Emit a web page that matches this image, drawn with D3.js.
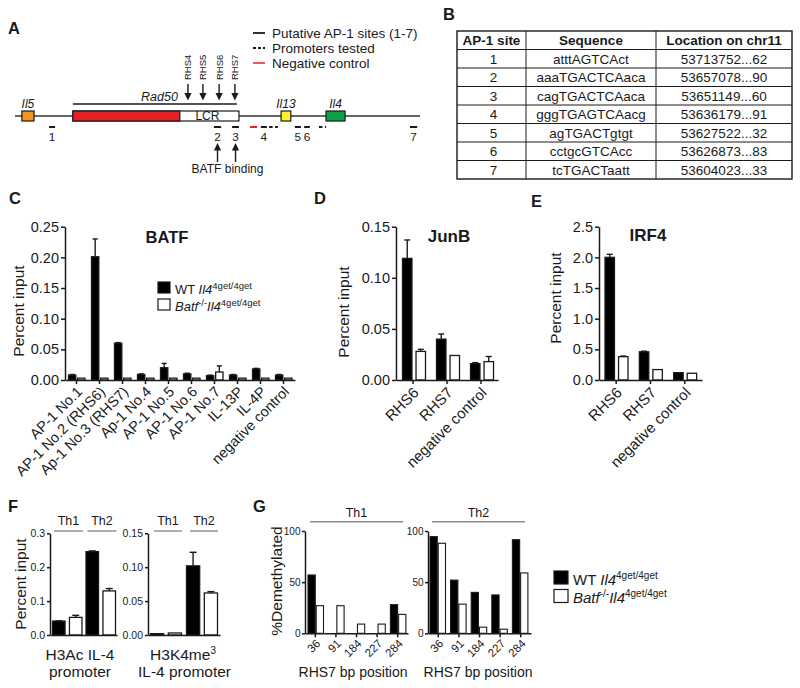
<!DOCTYPE html>
<html><head><meta charset="utf-8">
<script src="https://cdn.jsdelivr.net/npm/d3@7"></script>
<style>body{margin:0;background:#fff} svg{display:block}</style>
</head><body>
<svg id="fig" width="800" height="688"></svg>
<script>
const FONT = "'Liberation Sans', Arial, Helvetica, sans-serif";
const INK = "#1a1a1a";

// ================= DATA =================
// Panel A: schematic map (arbitrary map units 0-100)
const locusSpan = [0, 100];
const geneNames = ["Il5", "Il13", "Il4"];
const geneSpans = [[1.7, 4.7], [65.7, 68.1], [76.8, 81.5]];
const geneColors = ["#f39322", "#fff22d", "#0fa04b"];
const rad50LineSpan = [14.3, 54.8];
const rad50BoxSpan = [14.3, 55.3];
const rad50CodingSpan = [14.3, 40.7];
const rhsNames = ["RHS4", "RHS5", "RHS6", "RHS7"];
const rhsPositions = [42.7, 46.4, 50.4, 54.3];
const ap1SiteNames = ["1", "2", "3", "4", "5", "6", "7"];
const ap1SiteSpans = [[8.4, 9.9], [49.1, 50.9], [53.6, 55.3], [60.7, 62.2], [69.1, 70.6], [71.4, 72.8], [97.5, 99.3]];
const promoterSpans = [[62.5, 64.9], [74.8, 76.8]];
const negControlSpans = [[58.0, 59.8]];
const batfBoundSites = ["2", "3"];
const legendAItems = ["Putative AP-1 sites (1-7)", "Promoters tested", "Negative control"];

// Panel B: table
const tableHeader = ["AP-1 site", "Sequence", "Location on chr11"];
const siteSequences = ["atttAGTCAct", "aaaTGACTCAaca", "cagTGACTCAaca", "gggTGAGTCAacg", "agTGACTgtgt", "cctgcGTCAcc", "tcTGACTaatt"];
const siteLocations = ["53713752...62", "53657078...90", "53651149...60", "53636179...91", "53627522...32", "53626873...83", "53604023...33"];

// Panel C: BATF ChIP
const catsC = ["AP-1 No.1", "AP-1 No.2 (RHS6)", "Ap-1 No.3 (RHS7)", "Ap-1 No.4", "AP-1 No.5", "AP-1 No.6", "AP-1 No.7", "IL-13P", "IL-4P", "negative control"];
const wtC = [0.008, 0.201, 0.060, 0.009, 0.020, 0.010, 0.007, 0.008, 0.018, 0.008];
const wtErrC = [0.001, 0.029, 0.001, 0.001, 0.007, 0.001, 0.001, 0.001, 0.001, 0.001];
const koC = [0.003, 0.003, 0.003, 0.003, 0.003, 0.003, 0.013, 0.003, 0.003, 0.003];
const koErrC = [0, 0, 0, 0, 0, 0, 0.010, 0, 0, 0];
const ticksC = [0, 0.05, 0.10, 0.15, 0.20, 0.25];

// Panel D: JunB
const catsDE = ["RHS6", "RHS7", "negative control"];
const wtD = [0.119, 0.040, 0.016];
const wtErrD = [0.018, 0.005, 0.001];
const koD = [0.028, 0.024, 0.018];
const koErrD = [0.002, 0, 0.005];
const ticksD = [0, 0.05, 0.10, 0.15];

// Panel E: IRF4
const wtE = [2.00, 0.46, 0.12];
const wtErrE = [0.05, 0.01, 0];
const koE = [0.38, 0.17, 0.11];
const koErrE = [0.01, 0, 0];
const ticksE = [0, 0.5, 1.0, 1.5, 2.0, 2.5];

// Panel F: histone marks at IL-4 promoter
const cellTypes = ["Th1", "Th2"];
const wtH3Ac = [0.041, 0.246];
const wtErrH3Ac = [0.001, 0.002];
const koH3Ac = [0.052, 0.130];
const koErrH3Ac = [0.006, 0.007];
const ticksH3Ac = [0, 0.1, 0.2, 0.3];
const wtH3K4 = [0.002, 0.102];
const wtErrH3K4 = [0, 0.020];
const koH3K4 = [0.003, 0.062];
const koErrH3K4 = [0, 0.002];
const ticksH3K4 = [0, 0.05, 0.10, 0.15];

// Panel G: RHS7 demethylation
const bpPositions = ["36", "91", "184", "227", "284"];
const wtTh1 = [57, 0, 0, 0, 28];
const koTh1 = [27, 27, 9, 9, 18.5];
const wtTh2 = [94.5, 52, 40, 37.5, 91.5];
const koTh2 = [88, 28.5, 6, 4, 59];
const ticksG = [0, 50, 100];

// Legend labels
const legendSeries = [
  [{t: "WT ", s: "n"}, {t: "Il4", s: "i"}, {t: "4get/4get", s: "sup"}],
  [{t: "Batf", s: "i"}, {t: "-/-", s: "sup"}, {t: "Il4", s: "i"}, {t: "4get/4get", s: "sup"}]
];
const seriesFills = ["#000", "#fff"];

// ================= DRAWING =================
const svg = d3.select("#fig").attr("font-family", FONT);
svg.append("rect").attr("width", 800).attr("height", 688).attr("fill", "#fff");

function panelLabel(t, x, y) {
  svg.append("text").attr("x", x).attr("y", y).attr("font-weight", "bold")
    .attr("font-size", 16.5).attr("fill", INK).text(t);
}
function styleAxis(sel, fs) {
  sel.attr("font-family", FONT).attr("font-size", fs);
  sel.select(".domain").attr("stroke", INK).attr("stroke-width", 1.5);
  sel.selectAll(".tick line").attr("stroke", INK).attr("stroke-width", 1.5);
  sel.selectAll(".tick text").attr("fill", INK).attr("font-size", fs);
}
function vLabel(text, x, y, fs) {
  svg.append("text").attr("transform", `translate(${x},${y}) rotate(-90)`)
    .attr("text-anchor", "middle").attr("dy", "0.35em").attr("font-size", fs)
    .attr("fill", INK).text(text);
}
function richText(g, parts, x, y, fs, supFs, rise) {
  const t = g.append("text").attr("x", x).attr("y", y).attr("font-size", fs).attr("fill", INK);
  let up = false;
  parts.forEach(p => {
    const ts = t.append("tspan").text(p.t);
    if (p.s === "sup") {
      ts.attr("font-size", supFs).attr("dy", up ? 0 : -rise); up = true;
    } else {
      if (up) { ts.attr("dy", rise); up = false; }
      if (p.s === "i") ts.attr("font-style", "italic");
    }
  });
  return t;
}
function legend(x, y, size, gap, fs, supFs, rise) {
  const g = svg.append("g");
  legendSeries.forEach((parts, i) => {
    const yy = y + i * gap;
    g.append("rect").attr("x", x).attr("y", yy).attr("width", size).attr("height", size - 1)
      .attr("fill", seriesFills[i]).attr("stroke", INK).attr("stroke-width", 1.2);
    richText(g, parts, x + size + 5, yy + size - 0.5, fs, supFs, rise);
  });
}

function groupedBars(o) {
  const g = svg.append("g");
  const x0 = d3.scaleBand().domain(o.cats).range(o.xRange);
  const x1 = d3.scaleBand().domain(d3.range(o.series.length)).range(o.inner).paddingInner(o.gap);
  const y = d3.scaleLinear().domain([0, d3.max(o.ticks)]).range(o.yRange);
  o.series.forEach((s, i) => {
    const d = o.cats.map((c, j) => ({c, v: s.vals[j], e: s.errs ? s.errs[j] : 0}));
    const gs = g.append("g");
    gs.selectAll("rect").data(d).join("rect")
      .attr("x", q => x0(q.c) + x1(i)).attr("width", x1.bandwidth())
      .attr("y", q => y(q.v)).attr("height", q => y(0) - y(q.v))
      .attr("fill", seriesFills[i]).attr("stroke", INK).attr("stroke-width", o.barStroke || 1.3);
    const ed = d.filter(q => q.e > 0);
    const cx = q => x0(q.c) + x1(i) + x1.bandwidth() / 2;
    gs.selectAll("line.err").data(ed).join("line").attr("class", "err")
      .attr("x1", cx).attr("x2", cx).attr("y1", q => y(q.v)).attr("y2", q => y(q.v + q.e))
      .attr("stroke", INK).attr("stroke-width", 1.4);
    gs.selectAll("line.cap").data(ed).join("line").attr("class", "cap")
      .attr("x1", q => cx(q) - o.cap).attr("x2", q => cx(q) + o.cap)
      .attr("y1", q => y(q.v + q.e)).attr("y2", q => y(q.v + q.e))
      .attr("stroke", INK).attr("stroke-width", 1.4);
  });
  const ya = g.append("g").attr("transform", `translate(${o.xRange[0]},0)`)
    .call(d3.axisLeft(y).tickValues(o.ticks).tickFormat(o.fmt).tickSize(o.tickLen).tickSizeOuter(0).tickPadding(o.pad));
  styleAxis(ya, o.tickFs);
  const xa = g.append("g").attr("transform", `translate(0,${y(0)})`)
    .call(d3.axisBottom(x0).tickSize(o.xTickLen).tickSizeOuter(0));
  styleAxis(xa, o.xFs || 12);
  if (o.xFs) {
    xa.selectAll(".tick text").attr("x", null).attr("y", null).attr("dy", "0.35em")
      .attr("transform", `translate(${o.lx},${o.ly}) rotate(-45)`).attr("text-anchor", "end");
  } else {
    xa.selectAll(".tick text").remove();
  }
  if (o.xTickLen === 0) xa.selectAll(".tick line").remove();
  return {x0, x1, y, g};
}

// ---------- Panel A ----------
panelLabel("A", 8, 34);
const xA = d3.scaleLinear().domain(locusSpan).range([15, 420]);
const gA = svg.append("g").attr("fill", INK);
const yLine = 116, boxTop = 111, boxH = 10, markY = 127;
gA.append("line").attr("x1", xA(locusSpan[0])).attr("x2", xA(locusSpan[1]))
  .attr("y1", yLine).attr("y2", yLine).attr("stroke", "#333").attr("stroke-width", 1.6);
gA.append("rect").attr("x", xA(rad50BoxSpan[0])).attr("y", boxTop)
  .attr("width", xA(rad50BoxSpan[1]) - xA(rad50BoxSpan[0])).attr("height", boxH)
  .attr("fill", "#fff").attr("stroke", INK).attr("stroke-width", 1.2);
gA.append("rect").attr("x", xA(rad50CodingSpan[0])).attr("y", boxTop)
  .attr("width", xA(rad50CodingSpan[1]) - xA(rad50CodingSpan[0])).attr("height", boxH)
  .attr("fill", "#e52229").attr("stroke", INK).attr("stroke-width", 1.2);
gA.append("text").attr("x", (xA(rad50CodingSpan[1]) + xA(rad50BoxSpan[1])) / 2 - 2).attr("y", 120.3)
  .attr("text-anchor", "middle").attr("font-size", 12).text("LCR");
geneNames.forEach((n, i) => {
  const [a, b] = geneSpans[i];
  gA.append("rect").attr("x", xA(a)).attr("y", boxTop).attr("width", xA(b) - xA(a)).attr("height", boxH)
    .attr("fill", geneColors[i]).attr("stroke", INK).attr("stroke-width", 1.2);
  gA.append("text").attr("x", (xA(a) + xA(b)) / 2).attr("y", 107.5).attr("text-anchor", "middle")
    .attr("font-style", "italic").attr("font-size", 12).text(n);
});
gA.append("line").attr("x1", xA(rad50LineSpan[0])).attr("x2", xA(rad50LineSpan[1]))
  .attr("y1", 104).attr("y2", 104).attr("stroke", INK).attr("stroke-width", 1.5);
gA.append("text").attr("x", xA(rhsPositions[0]) - 10).attr("y", 101).attr("text-anchor", "end")
  .attr("font-style", "italic").attr("font-size", 12.5).text("Rad50");
rhsNames.forEach((n, i) => {
  const x = xA(rhsPositions[i]);
  gA.append("line").attr("x1", x).attr("x2", x).attr("y1", 84).attr("y2", 94).attr("stroke", INK).attr("stroke-width", 1.4);
  gA.append("path").attr("d", `M${x - 3.6},93 L${x + 3.6},93 L${x},100.5 Z`).attr("fill", INK);
  gA.append("text").attr("transform", `translate(${x + 3.4},80) rotate(-90)`).attr("font-size", 9.5).text(n);
});
ap1SiteNames.forEach((n, i) => {
  const [a, b] = ap1SiteSpans[i];
  gA.append("line").attr("x1", xA(a)).attr("x2", xA(b)).attr("y1", markY).attr("y2", markY)
    .attr("stroke", INK).attr("stroke-width", 2);
  gA.append("text").attr("x", (xA(a) + xA(b)) / 2).attr("y", 140.5).attr("text-anchor", "middle")
    .attr("font-size", 11.8).text(n);
});
promoterSpans.forEach(([a, b]) => {
  gA.append("line").attr("x1", xA(a) + 1).attr("x2", xA(b)).attr("y1", markY).attr("y2", markY)
    .attr("stroke", INK).attr("stroke-width", 2).attr("stroke-dasharray", "3.5,2.5");
});
negControlSpans.forEach(([a, b]) => {
  gA.append("line").attr("x1", xA(a)).attr("x2", xA(b)).attr("y1", markY).attr("y2", markY)
    .attr("stroke", "#e52229").attr("stroke-width", 2);
});
const batfX = batfBoundSites.map(s => { const [a, b] = ap1SiteSpans[ap1SiteNames.indexOf(s)]; return (xA(a) + xA(b)) / 2; });
batfX.forEach(x => {
  gA.append("line").attr("x1", x).attr("x2", x).attr("y1", 149).attr("y2", 162).attr("stroke", INK).attr("stroke-width", 1.4);
  gA.append("path").attr("d", `M${x - 3.6},150.5 L${x + 3.6},150.5 L${x},143 Z`).attr("fill", INK);
});
gA.append("text").attr("x", d3.mean(batfX) + 1).attr("y", 172.5).attr("text-anchor", "middle")
  .attr("font-size", 12).text("BATF binding");
legendAItems.forEach((t, i) => {
  const yy = 38 + i * 15;
  const l = gA.append("line").attr("x1", 253).attr("x2", 265).attr("y1", yy - 5).attr("y2", yy - 5)
    .attr("stroke", i === 2 ? "#e52229" : INK).attr("stroke-width", i === 2 ? 1.5 : 1.8);
  if (i === 1) l.attr("stroke-dasharray", "3,2");
  gA.append("text").attr("x", 272).attr("y", yy).attr("font-size", 13.5).text(t);
});

// ---------- Panel B ----------
panelLabel("B", 443, 20);
const gB = svg.append("g").attr("fill", INK);
const colEdges = [457, 526, 656, 792];
const rowKeys = ["h"].concat(ap1SiteNames);
const yB = d3.scaleBand().domain(rowKeys).range([31, 179]);
gB.append("rect").attr("x", colEdges[0]).attr("y", 31).attr("width", colEdges[3] - colEdges[0]).attr("height", 148)
  .attr("fill", "none").attr("stroke", INK).attr("stroke-width", 1.4);
rowKeys.slice(1).forEach(k => {
  gB.append("line").attr("x1", colEdges[0]).attr("x2", colEdges[3]).attr("y1", yB(k)).attr("y2", yB(k))
    .attr("stroke", INK).attr("stroke-width", 1);
});
[1, 2].forEach(c => gB.append("line").attr("x1", colEdges[c]).attr("x2", colEdges[c]).attr("y1", 31).attr("y2", 179)
  .attr("stroke", INK).attr("stroke-width", 1));
const colMid = c => (colEdges[c] + colEdges[c + 1]) / 2;
tableHeader.forEach((h, c) => gB.append("text").attr("x", colMid(c)).attr("y", yB("h") + yB.bandwidth() / 2)
  .attr("dy", "0.36em").attr("text-anchor", "middle").attr("font-weight", "bold").attr("font-size", 13.5).text(h));
ap1SiteNames.forEach((s, i) => {
  [s, siteSequences[i], siteLocations[i]].forEach((v, c) => gB.append("text").attr("x", colMid(c) + (c === 0 ? 2 : 0))
    .attr("y", yB(s) + yB.bandwidth() / 2).attr("dy", "0.36em").attr("text-anchor", "middle").attr("font-size", 13.5).text(v));
});

// ---------- Panel C ----------
panelLabel("C", 9, 204);
groupedBars({cats: catsC, series: [{vals: wtC, errs: wtErrC}, {vals: koC, errs: koErrC}],
  xRange: [65, 295], inner: [3.5, 20], gap: 0.2, ticks: ticksC, fmt: d3.format(".2f"), yRange: [380, 226.7],
  tickLen: 4, pad: 2, tickFs: 14.5, xTickLen: 4, xFs: 14.5, lx: 3, ly: 9, cap: 2.6});
vLabel("Percent input", 18.5, 311, 15.5);
svg.append("text").attr("x", 167).attr("y", 243).attr("text-anchor", "middle").attr("font-weight", "bold")
  .attr("font-size", 16.5).attr("fill", INK).text("BATF");
legend(158, 282, 12, 17, 13, 9.5, 5);

// ---------- Panel D ----------
panelLabel("D", 314, 204);
groupedBars({cats: catsDE, series: [{vals: wtD, errs: wtErrD}, {vals: koD, errs: koErrD}],
  xRange: [396, 498], inner: [6.5, 29.5], gap: 0.3, ticks: ticksD, fmt: d3.format(".2f"), yRange: [380, 226.7],
  tickLen: 4, pad: 2, tickFs: 14.5, xTickLen: 4, xFs: 15, lx: 3, ly: 10, cap: 3});
vLabel("Percent input", 343.5, 312, 15.5);
svg.append("text").attr("x", 449).attr("y", 242).attr("text-anchor", "middle").attr("font-weight", "bold")
  .attr("font-size", 17).attr("fill", INK).text("JunB");

// ---------- Panel E ----------
panelLabel("E", 531, 207);
groupedBars({cats: catsDE, series: [{vals: wtE, errs: wtErrE}, {vals: koE, errs: koErrE}],
  xRange: [599, 702], inner: [6, 29], gap: 0.3, ticks: ticksE, fmt: d3.format(".1f"), yRange: [380, 226.7],
  tickLen: 4, pad: 2, tickFs: 14.5, xTickLen: 4, xFs: 15, lx: 3, ly: 10, cap: 3});
vLabel("Percent input", 556, 298, 15.5);
svg.append("text").attr("x", 648).attr("y", 241).attr("text-anchor", "middle").attr("font-weight", "bold")
  .attr("font-size", 17).attr("fill", INK).text("IRF4");

// ---------- Panel F ----------
panelLabel("F", 8, 512);
function groupHeader(x0, names, y, fs, l, r) {
  names.forEach(n => {
    const a = x0(n) + l, b = x0(n) + x0.bandwidth() - r;
    svg.append("line").attr("x1", a).attr("x2", b).attr("y1", y).attr("y2", y).attr("stroke", "#8c8c8c").attr("stroke-width", 1.4);
    svg.append("text").attr("x", (a + b) / 2).attr("y", y - 6).attr("text-anchor", "middle")
      .attr("font-size", fs).attr("fill", INK).text(n);
  });
}
const f1 = groupedBars({cats: cellTypes, series: [{vals: wtH3Ac, errs: wtErrH3Ac}, {vals: koH3Ac, errs: koErrH3Ac}],
  xRange: [50, 117], inner: [2.5, 32], gap: 0.26, ticks: ticksH3Ac, fmt: d3.format(".1f"), yRange: [635, 533.3],
  tickLen: 3, pad: 2, tickFs: 10.5, xTickLen: 0, cap: 3.5});
groupHeader(f1.x0, cellTypes, 531, 12.5, 4, 0.5);
const f2 = groupedBars({cats: cellTypes, series: [{vals: wtH3K4, errs: wtErrH3K4}, {vals: koH3K4, errs: koErrH3K4}],
  xRange: [148, 220], inner: [2.5, 33.5], gap: 0.26, ticks: ticksH3K4, fmt: d3.format(".2f"), yRange: [635, 533.3],
  tickLen: 3, pad: 2, tickFs: 10.5, xTickLen: 0, cap: 3.5});
groupHeader(f2.x0, cellTypes, 531, 12.5, 6, 2);
vLabel("Percent input", 21, 584, 15.5);
const fl = svg.append("g").attr("font-size", 15.5).attr("fill", INK).attr("text-anchor", "middle");
fl.append("text").attr("x", 80).attr("y", 660).text("H3Ac IL-4");
fl.append("text").attr("x", 80).attr("y", 677).text("promoter");
const h3k = fl.append("text").attr("x", 183).attr("y", 660);
h3k.append("tspan").text("H3K4me");
h3k.append("tspan").attr("font-size", 10).attr("dy", -6).text("3");
fl.append("text").attr("x", 184.5).attr("y", 677).text("IL-4 promoter");

// ---------- Panel G ----------
panelLabel("G", 253, 512);
const g1 = groupedBars({cats: bpPositions, series: [{vals: wtTh1}, {vals: koTh1}],
  xRange: [305, 408], inner: [3, 18.5], gap: 0.12, ticks: ticksG, fmt: d3.format("d"), yRange: [633.3, 531],
  tickLen: 3, pad: 1.5, tickFs: 10, xTickLen: 4, xFs: 11.5, lx: 3, ly: 8, cap: 0, barStroke: 1.1});
const g2 = groupedBars({cats: bpPositions, series: [{vals: wtTh2}, {vals: koTh2}],
  xRange: [428, 531], inner: [2, 17.5], gap: 0.12, ticks: ticksG, fmt: d3.format("d"), yRange: [633.3, 531],
  tickLen: 3, pad: 1.5, tickFs: 10, xTickLen: 4, xFs: 11.5, lx: 3, ly: 8, cap: 0, barStroke: 1.1});
[[g1, "Th1", 310, 403], [g2, "Th2", 432, 525]].forEach(([c, n, a, b]) => {
  svg.append("line").attr("x1", a).attr("x2", b).attr("y1", 521.7).attr("y2", 521.7).attr("stroke", "#8c8c8c").attr("stroke-width", 1.4);
  svg.append("text").attr("x", (a + b) / 2).attr("y", 516.5).attr("text-anchor", "middle").attr("font-size", 12.5).attr("fill", INK).text(n);
});
vLabel("%Demethylated", 277, 581, 15.5);
svg.append("text").attr("x", 353).attr("y", 677).attr("text-anchor", "middle").attr("font-size", 14).attr("fill", INK).text("RHS7 bp position");
svg.append("text").attr("x", 478).attr("y", 677).attr("text-anchor", "middle").attr("font-size", 14).attr("fill", INK).text("RHS7 bp position");
legend(554, 571, 14, 18.5, 15, 10, 6);
</script>
</body></html>
